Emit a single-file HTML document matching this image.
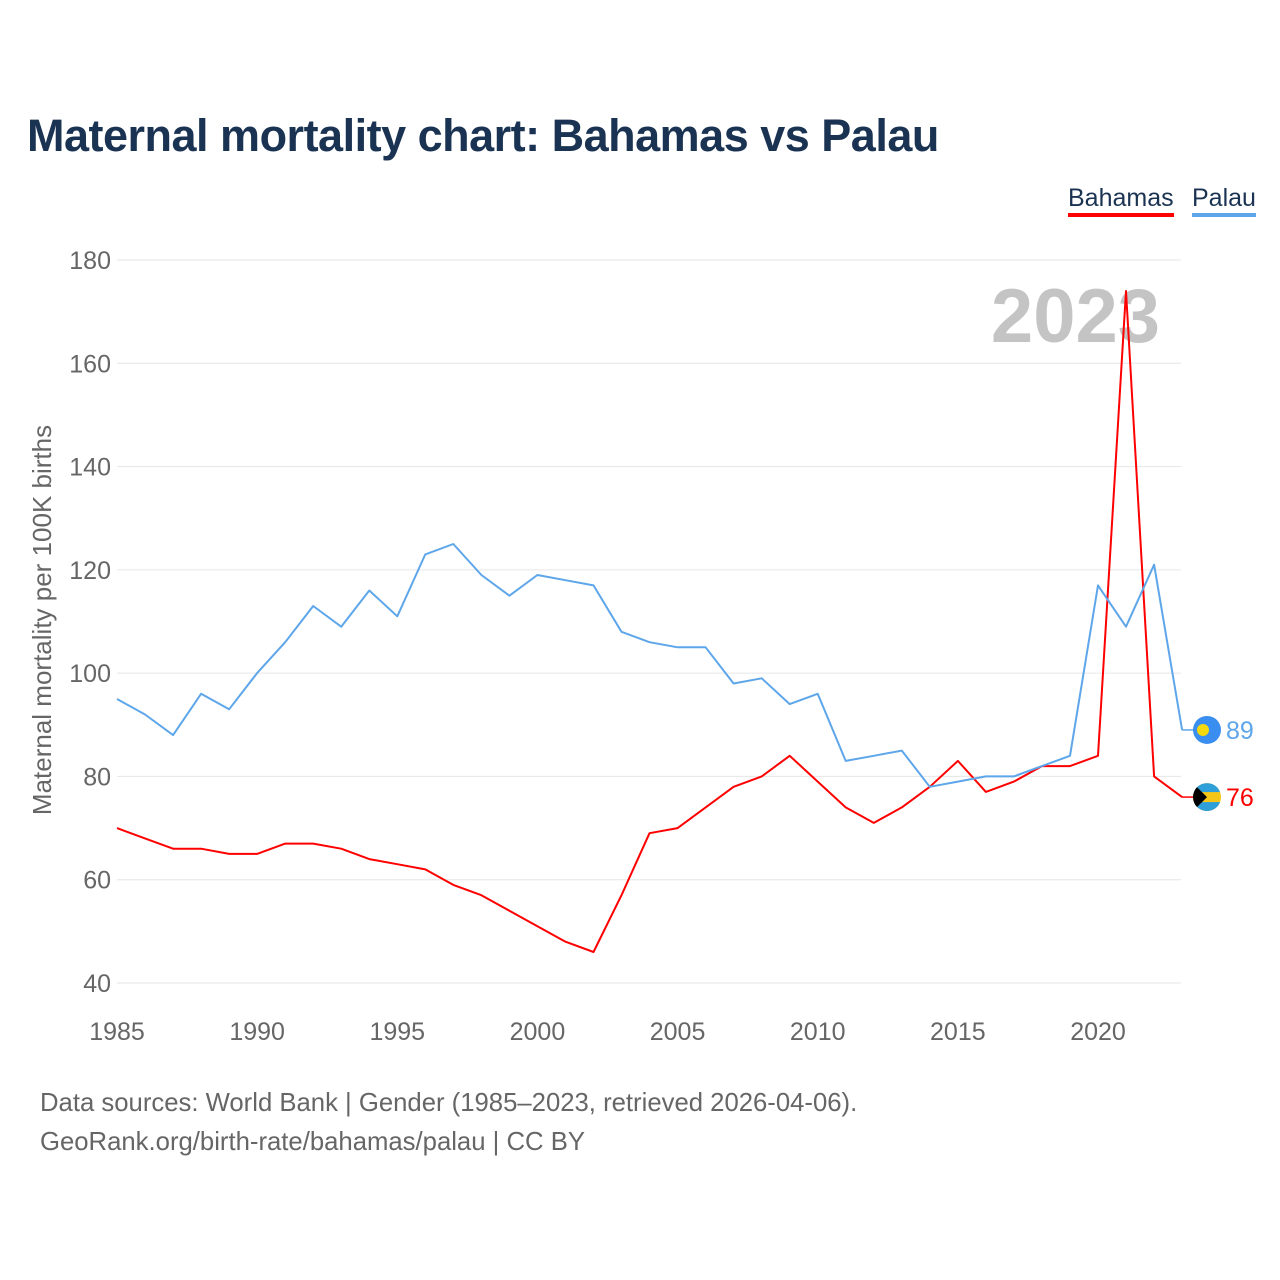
<!DOCTYPE html>
<html><head><meta charset="utf-8"><style>
html,body{margin:0;padding:0;background:#fff;}
body{width:1280px;height:1280px;position:relative;font-family:"Liberation Sans",sans-serif;overflow:hidden;}
.t{position:absolute;}
</style></head><body>
<div class="t" style="left:27px;top:110px;font-size:45px;font-weight:bold;color:#1b3353;letter-spacing:-0.5px;">Maternal mortality chart: Bahamas vs Palau</div>
<div class="t" style="left:1068px;top:184px;font-size:25px;color:#1b3353;border-bottom:4px solid #ff0000;line-height:29px;">Bahamas</div>
<div class="t" style="left:1192px;top:184px;font-size:25px;color:#1b3353;border-bottom:4px solid #5ea6ea;line-height:29px;">Palau</div>
<svg id="chart" width="1280" height="1280" style="position:absolute;left:0;top:0;"></svg>
<div class="t" style="left:40px;top:1084px;font-size:25.7px;color:#666;line-height:39px;">Data sources: World Bank | Gender (1985–2023, retrieved 2026-04-06).<br>GeoRank.org/birth-rate/bahamas/palau | CC BY</div>
<script>
const years=[1985,1986,1987,1988,1989,1990,1991,1992,1993,1994,1995,1996,1997,1998,1999,2000,2001,2002,2003,2004,2005,2006,2007,2008,2009,2010,2011,2012,2013,2014,2015,2016,2017,2018,2019,2020,2021,2022,2023];
const palau=[95,92,88,96,93,100,106,113,109,116,111,123,125,119,115,119,118,117,108,106,105,105,98,99,94,96,83,84,85,78,79,80,80,82,84,117,109,121,89];
const bahamas=[70,68,66,66,65,65,67,67,66,64,63,62,59,57,54,51,48,46,57,69,70,74,78,80,84,79,74,71,74,78,83,77,79,82,82,84,174,80,76];
const yTicks=[40,60,80,100,120,140,160,180];
const xTicks=[1985,1990,1995,2000,2005,2010,2015,2020];
const NS="http://www.w3.org/2000/svg";
const svg=document.getElementById('chart');
const X=y=>117+(y-1985)*(1098-117)/35;
const Y=v=>983-(v-40)*(983-260)/140;
function el(tag,attrs,parent){const e=document.createElementNS(NS,tag);for(const k in attrs)e.setAttribute(k,attrs[k]);(parent||svg).appendChild(e);return e;}
yTicks.forEach(v=>{
  const g=el('line',{x1:117,x2:1181,y1:Y(v),y2:Y(v),stroke:'#e6e6e6','stroke-width':1});
  
  
  const t=el('text',{x:111,y:Y(v)+9,'text-anchor':'end','font-size':25,fill:'#666','font-family':'Liberation Sans, sans-serif'});
  t.textContent=v;
  
  
});
xTicks.forEach(v=>{
  const t=el('text',{x:X(v),y:1040,'text-anchor':'middle','font-size':25,fill:'#666','font-family':'Liberation Sans, sans-serif'});
  t.textContent=v;
  
  
});
const yt=el('text',{x:0,y:0,transform:'translate(51,620) rotate(-90)','text-anchor':'middle','font-size':26,fill:'#666','font-family':'Liberation Sans, sans-serif'});
yt.textContent='Maternal mortality per 100K births';


const wm=el('text',{x:1160,y:342,'text-anchor':'end','font-size':76,'font-weight':'bold',fill:'#c4c4c4','font-family':'Liberation Sans, sans-serif'});
wm.textContent='2023';


function series(data,color,name){
  const pts=data.map((v,i)=>X(years[i]).toFixed(1)+','+Y(v).toFixed(1)).join(' ');
  const p=el('polyline',{points:pts,fill:'none',stroke:color,'stroke-width':2,'stroke-linejoin':'round'});
  
  
  const last=data[data.length-1];const ly=Y(last);
  const c=el('line',{x1:X(2023),x2:1195,y1:ly,y2:ly,stroke:color,'stroke-width':1.5});
  
  
  const lab=el('text',{x:1226,y:ly+9,'font-size':25,fill:color,'font-family':'Liberation Sans, sans-serif'});
  lab.textContent=last;
  
  
  return ly;
}
const bl=series(bahamas,'#ff0000','bahamas');
const pl=series(palau,'#5ea6ea','palau');
const pf=el('circle',{cx:1207,cy:pl,r:14,fill:'#3a8ef0'});


el('circle',{cx:1203,cy:pl,r:6,fill:'#f5d90a'});
const cp=el('clipPath',{id:'bc'});el('circle',{cx:1207,cy:bl,r:14},cp);
const bg=el('g',{'clip-path':'url(#bc)'});


el('rect',{x:1193,y:bl-14,width:28,height:28,fill:'#f5c518'},bg);
el('rect',{x:1193,y:bl-14,width:28,height:9,fill:'#2e9fd8'},bg);
el('rect',{x:1193,y:bl+5,width:28,height:9,fill:'#2e9fd8'},bg);
el('polygon',{points:`1193,${bl-14} 1207,${bl} 1193,${bl+14}`,fill:'#000'},bg);
</script>
</body></html>
